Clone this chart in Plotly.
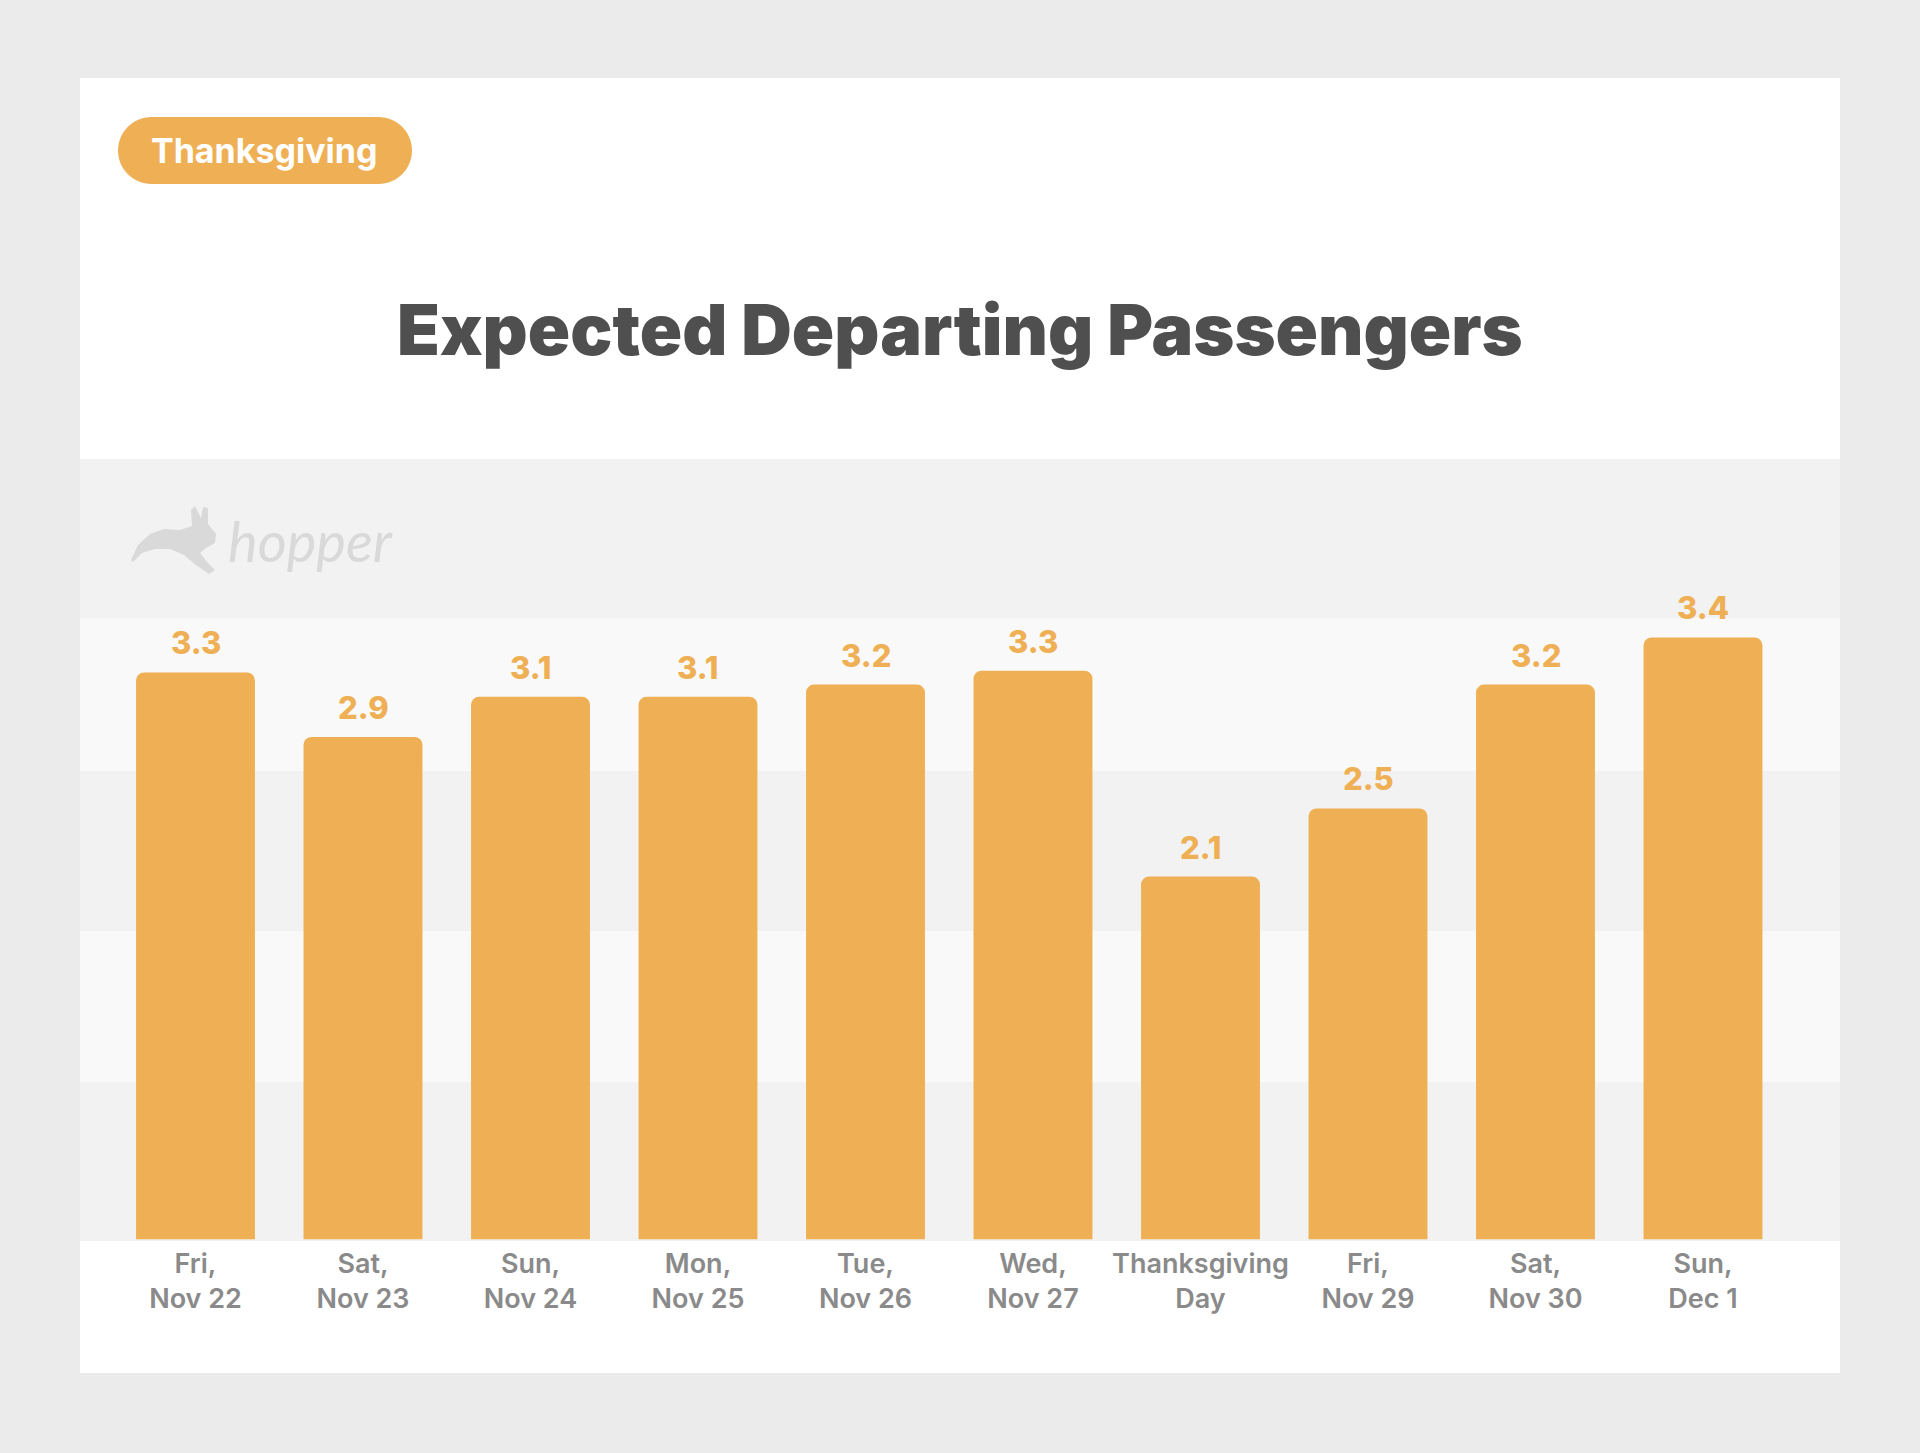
import plotly.graph_objects as go

# ---- data ----
categories = ["Fri,<br>Nov 22", "Sat,<br>Nov 23", "Sun,<br>Nov 24", "Mon,<br>Nov 25",
              "Tue,<br>Nov 26", "Wed,<br>Nov 27", "Thanksgiving<br>Day", "Fri,<br>Nov 29",
              "Sat,<br>Nov 30", "Sun,<br>Dec 1"]
passengers = [3.25, 2.88, 3.11, 3.11, 3.18, 3.26, 2.08, 2.47, 3.18, 3.45]
value_labels = ["3.3", "2.9", "3.1", "3.1", "3.2", "3.3", "2.1", "2.5", "3.2", "3.4"]
title_text = "Expected Departing Passengers"
badge_text = "Thanksgiving"

W, H = 1920, 1453
ORANGE = "#EFB055"


def px(x):
    return x / W


def py(y):
    return 1 - y / H


fig = go.Figure()
fig.add_trace(go.Bar(
    x=categories, y=passengers,
    marker=dict(color=ORANGE, cornerradius=8, line=dict(width=0)),
    hoverinfo="skip",
))

shapes = []
# white card
shapes.append(dict(type="rect", xref="paper", yref="paper", x0=px(80), x1=px(1840),
                   y0=py(1373), y1=py(78), fillcolor="white", line=dict(width=0), layer="below"))
# bands
bands = [(459, 618, "#F2F2F2"), (618, 771, "#F9F9F9"), (771, 931, "#F2F2F2"),
         (931, 1082, "#F9F9F9"), (1082, 1241, "#F2F2F2")]
for y0, y1, c in bands:
    shapes.append(dict(type="rect", xref="paper", yref="paper", x0=px(80), x1=px(1840),
                       y0=py(y1), y1=py(y0), fillcolor=c, line=dict(width=0), layer="below"))

# badge (rounded pill)
bx0, bx1, by0, by1 = 118, 412, 117, 184
r = (by1 - by0) / 2
k = 0.5523 * r


def P(x, y):
    return f"{px(x):.6f},{py(y):.6f}"


path = (f"M {P(bx0 + r, by0)} L {P(bx1 - r, by0)} "
        f"C {P(bx1 - r + k, by0)} {P(bx1, by0 + r - k)} {P(bx1, by0 + r)} "
        f"C {P(bx1, by0 + r + k)} {P(bx1 - r + k, by1)} {P(bx1 - r, by1)} "
        f"L {P(bx0 + r, by1)} "
        f"C {P(bx0 + r - k, by1)} {P(bx0, by0 + r + k)} {P(bx0, by0 + r)} "
        f"C {P(bx0, by0 + r - k)} {P(bx0 + r - k, by0)} {P(bx0 + r, by0)} Z")
shapes.append(dict(type="path", xref="paper", yref="paper", path=path,
                   fillcolor=ORANGE, line=dict(width=0), layer="above"))

# rabbit silhouette (hopper logo, approximate)
rab = [(131, 560), (138, 545), (150, 534), (164, 529), (180, 530), (192, 526), (191, 510),
       (195, 506), (201, 518), (203, 507), (208, 508), (208, 524), (216, 534), (215, 543),
       (206, 548), (200, 553), (208, 563), (215, 570), (209, 574), (196, 565), (184, 555),
       (170, 549), (155, 549), (142, 553), (133, 562)]
rpath = "M " + " L ".join(P(x, y) for x, y in rab) + " Z"
shapes.append(dict(type="path", xref="paper", yref="paper", path=rpath,
                   fillcolor="#D9D9D9", line=dict(width=0), layer="below"))

annotations = []
# value labels above bars
for c, v, t in zip(categories, passengers, value_labels):
    annotations.append(dict(x=c, y=v, xref="x", yref="y", text=t, showarrow=False,
                            yanchor="bottom", yshift=9,
                            font=dict(family="Inter", size=31, color=ORANGE, weight=800)))
# title
annotations.append(dict(x=0.5, y=py(329), xref="paper", yref="paper", text=title_text,
                        showarrow=False, xanchor="center", yanchor="middle",
                        font=dict(family="Inter", size=70, color="#4F4F4F", weight=900)))
# badge text
annotations.append(dict(x=px(264), y=py(151), xref="paper", yref="paper", text=badge_text,
                        showarrow=False, xanchor="center", yanchor="middle",
                        font=dict(family="Inter", size=34, color="white", weight=700)))
# hopper wordmark
annotations.append(dict(x=px(226), y=py(540), xref="paper", yref="paper", text="<i>hopper</i>",
                        showarrow=False, xanchor="left", yanchor="middle",
                        font=dict(family="Lato", size=56, color="#D9D9D9", weight=400)))

fig.update_layout(
    width=W, height=H,
    margin=dict(l=0, r=0, t=0, b=0),
    paper_bgcolor="#EBEBEB",
    plot_bgcolor="rgba(0,0,0,0)",
    showlegend=False,
    bargap=0.29,
    shapes=shapes,
    annotations=annotations,
    xaxis=dict(domain=[px(111.75), px(1786.75)], range=[-0.5, 9.5], showgrid=False,
               zeroline=False, showline=False, ticks="", fixedrange=True,
               ticklabelstandoff=5,
               tickfont=dict(family="Inter", size=27, color="#8A8A8A", weight=600)),
    yaxis=dict(domain=[py(1239.5), py(459)], range=[0, 780.5 / 174.5], visible=False,
               fixedrange=True),
)

fig.write_html(
    "out.html",
    config={"displayModeBar": False},
    post_script="document.body.style.margin='0';document.body.style.background='#EBEBEB';",
)
